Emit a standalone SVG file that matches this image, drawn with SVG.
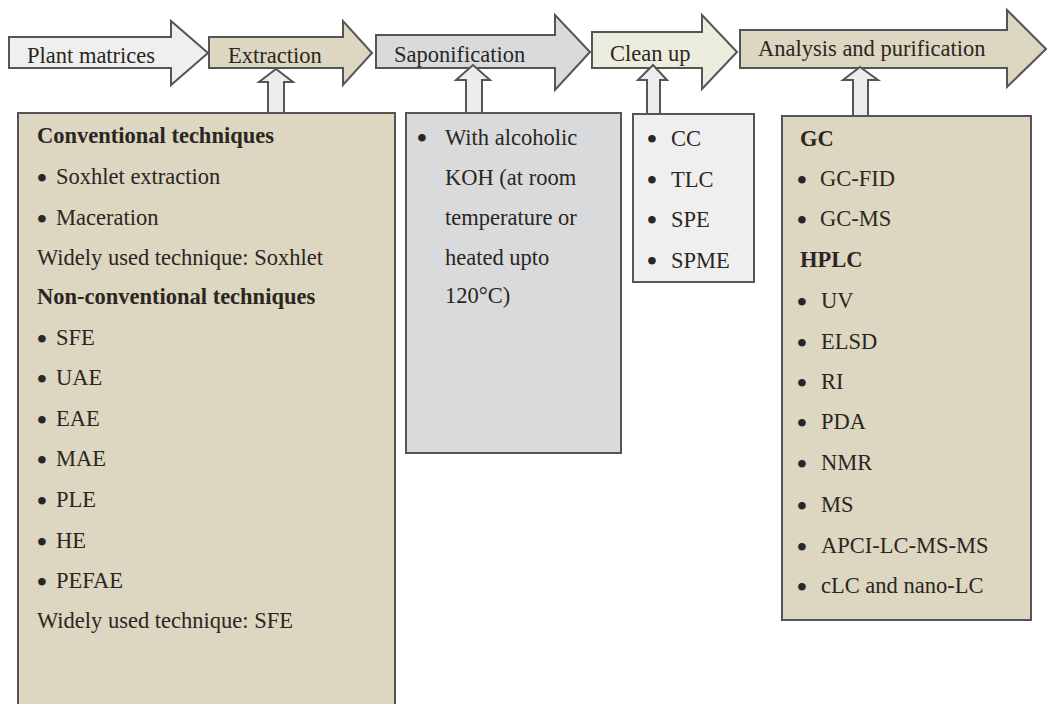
<svg xmlns="http://www.w3.org/2000/svg" width="1048" height="704" viewBox="0 0 1048 704">
<style>
text{font-family:"Liberation Serif","Times New Roman",serif;font-size:22.5px;fill:#2a2622}
.b{font-weight:bold}
.d{font-size:28px;font-weight:bold}
.s{stroke:#555;stroke-width:2;stroke-linejoin:miter}
.tan{fill:#ddd6c1}
.gray{fill:#d9dadc}
.light{fill:#efefef}
.cream{fill:#ececdf}
.up{fill:#ececec;stroke:#555;stroke-width:2}
</style>
<rect width="1048" height="704" fill="#fff"/>
<g id="flow">
<g id="plant-matrices">
<polygon class="s light" points="9,37 171,37 171,21 208,53 171,85 171,68 9,68"/>
<text x="27" y="63">Plant matrices</text>
</g>
<g id="extraction">
<polygon class="s tan" points="209,37 343,37 343,21 372,53 343,85 343,68 209,68"/>
<text x="228" y="63">Extraction</text>
</g>
<g id="saponification">
<polygon class="s gray" points="376,35 555,35 555,15 590,52 555,90 555,68 376,68"/>
<text x="394" y="62">Saponification</text>
</g>
<g id="clean-up">
<polygon class="s cream" points="592,32 702,32 702,15 737,52 702,89 702,68 592,68"/>
<text x="610" y="61">Clean up</text>
</g>
<g id="analysis">
<polygon class="s tan" points="740,30 1007,30 1007,10 1046,49 1007,87 1007,68 740,68"/>
<text x="758" y="56">Analysis and purification</text>
</g>
</g>
<g id="connectors">
<polygon class="up" points="268,113 268,82 259,82 276,69 293,82 284,82 284,113"/>
<polygon class="up" points="466,113 466,80 456,80 473,65 490,80 482,80 482,113"/>
<polygon class="up" points="647,114 647,80 638,80 653,65 667,80 660,80 660,114"/>
<polygon class="up" points="853,116 853,80 843,80 860,67 878,80 868,80 868,116"/>
</g>
<g id="extraction-box">
<rect class="s tan" x="18" y="113" width="377" height="600"/>
<text class="b" x="37" y="143">Conventional techniques</text>
<text class="d" x="37" y="187">•</text><text x="56" y="184">Soxhlet extraction</text>
<text class="d" x="37" y="228">•</text><text x="56" y="225">Maceration</text>
<text x="37" y="265">Widely used technique: Soxhlet</text>
<text class="b" x="37" y="304">Non-conventional techniques</text>
<text class="d" x="37" y="348">•</text><text x="56" y="345">SFE</text>
<text class="d" x="37" y="388">•</text><text x="56" y="385">UAE</text>
<text class="d" x="37" y="429">•</text><text x="56" y="426">EAE</text>
<text class="d" x="37" y="469">•</text><text x="56" y="466">MAE</text>
<text class="d" x="37" y="510">•</text><text x="56" y="507">PLE</text>
<text class="d" x="37" y="551">•</text><text x="56" y="548">HE</text>
<text class="d" x="37" y="591">•</text><text x="56" y="588">PEFAE</text>
<text x="37" y="628">Widely used technique: SFE</text>
</g>
<g id="saponification-box">
<rect class="s gray" x="406" y="113" width="215" height="340"/>
<text class="d" x="417" y="147">•</text><text x="445" y="145">With alcoholic</text>
<text x="445" y="185">KOH (at room</text>
<text x="445" y="225">temperature or</text>
<text x="445" y="265">heated upto</text>
<text x="445" y="303">120°C)</text>
</g>
<g id="clean-up-box">
<rect class="s light" x="633" y="114" width="121" height="168"/>
<text class="d" x="647" y="148">•</text><text x="671" y="146">CC</text>
<text class="d" x="647" y="189">•</text><text x="671" y="187">TLC</text>
<text class="d" x="647" y="229">•</text><text x="671" y="227">SPE</text>
<text class="d" x="647" y="270">•</text><text x="671" y="268">SPME</text>
</g>
<g id="analysis-box">
<rect class="s tan" x="782" y="116" width="249" height="504"/>
<text class="b" x="800" y="146">GC</text>
<text class="d" x="797" y="189">•</text><text x="820" y="186">GC-FID</text>
<text class="d" x="797" y="229">•</text><text x="820" y="226">GC-MS</text>
<text class="b" x="800" y="267">HPLC</text>
<text class="d" x="797" y="311">•</text><text x="821" y="308">UV</text>
<text class="d" x="797" y="352">•</text><text x="821" y="349">ELSD</text>
<text class="d" x="797" y="392">•</text><text x="821" y="389">RI</text>
<text class="d" x="797" y="432">•</text><text x="821" y="429">PDA</text>
<text class="d" x="797" y="473">•</text><text x="821" y="470">NMR</text>
<text class="d" x="797" y="515">•</text><text x="821" y="512">MS</text>
<text class="d" x="797" y="556">•</text><text x="821" y="553">APCI-LC-MS-MS</text>
<text class="d" x="797" y="596">•</text><text x="821" y="593">cLC and nano-LC</text>
</g>
</svg>
